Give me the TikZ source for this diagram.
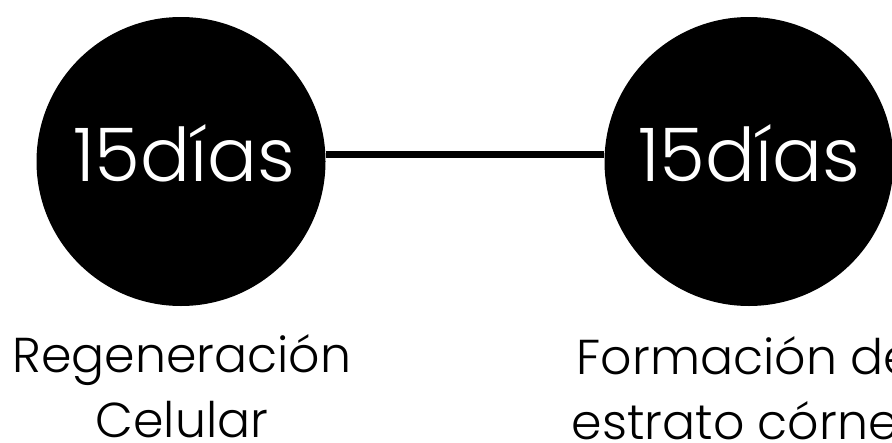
\documentclass[tikz,border=0pt]{standalone}
\usepackage{fontspec}
\setmainfont{Poppins}[UprightFont={* Light}]
\begin{document}
\begin{tikzpicture}[x=1pt,y=-1pt]
\useasboundingbox (0,0) rectangle (892,442);
\clip (0,0) rectangle (892,442);
\begin{scope}[every node/.style={circle,fill=black,minimum size=289pt,inner sep=0pt}]
\node (d1) at (181,161.5) {};
\node (d2) at (749,161.5) {};
\end{scope}
\draw[line width=7pt] ([yshift=7pt]d1.east) -- ([yshift=7pt]d2.west);
\begin{scope}[every node/.style={text=white,font=\fontsize{74}{74}\selectfont}]
\node (n1) at (184,153) {15días};
\node (n2) at (749,153) {15días};
\end{scope}
\begin{scope}[every node/.style={align=center,font=\fontsize{49}{65}\selectfont}]
\node (t1) at (182,386) {Regeneración\\Celular};
\node (t2) at (751,388) {Formación del\\estrato córneo};
\end{scope}
\end{tikzpicture}
\end{document}
